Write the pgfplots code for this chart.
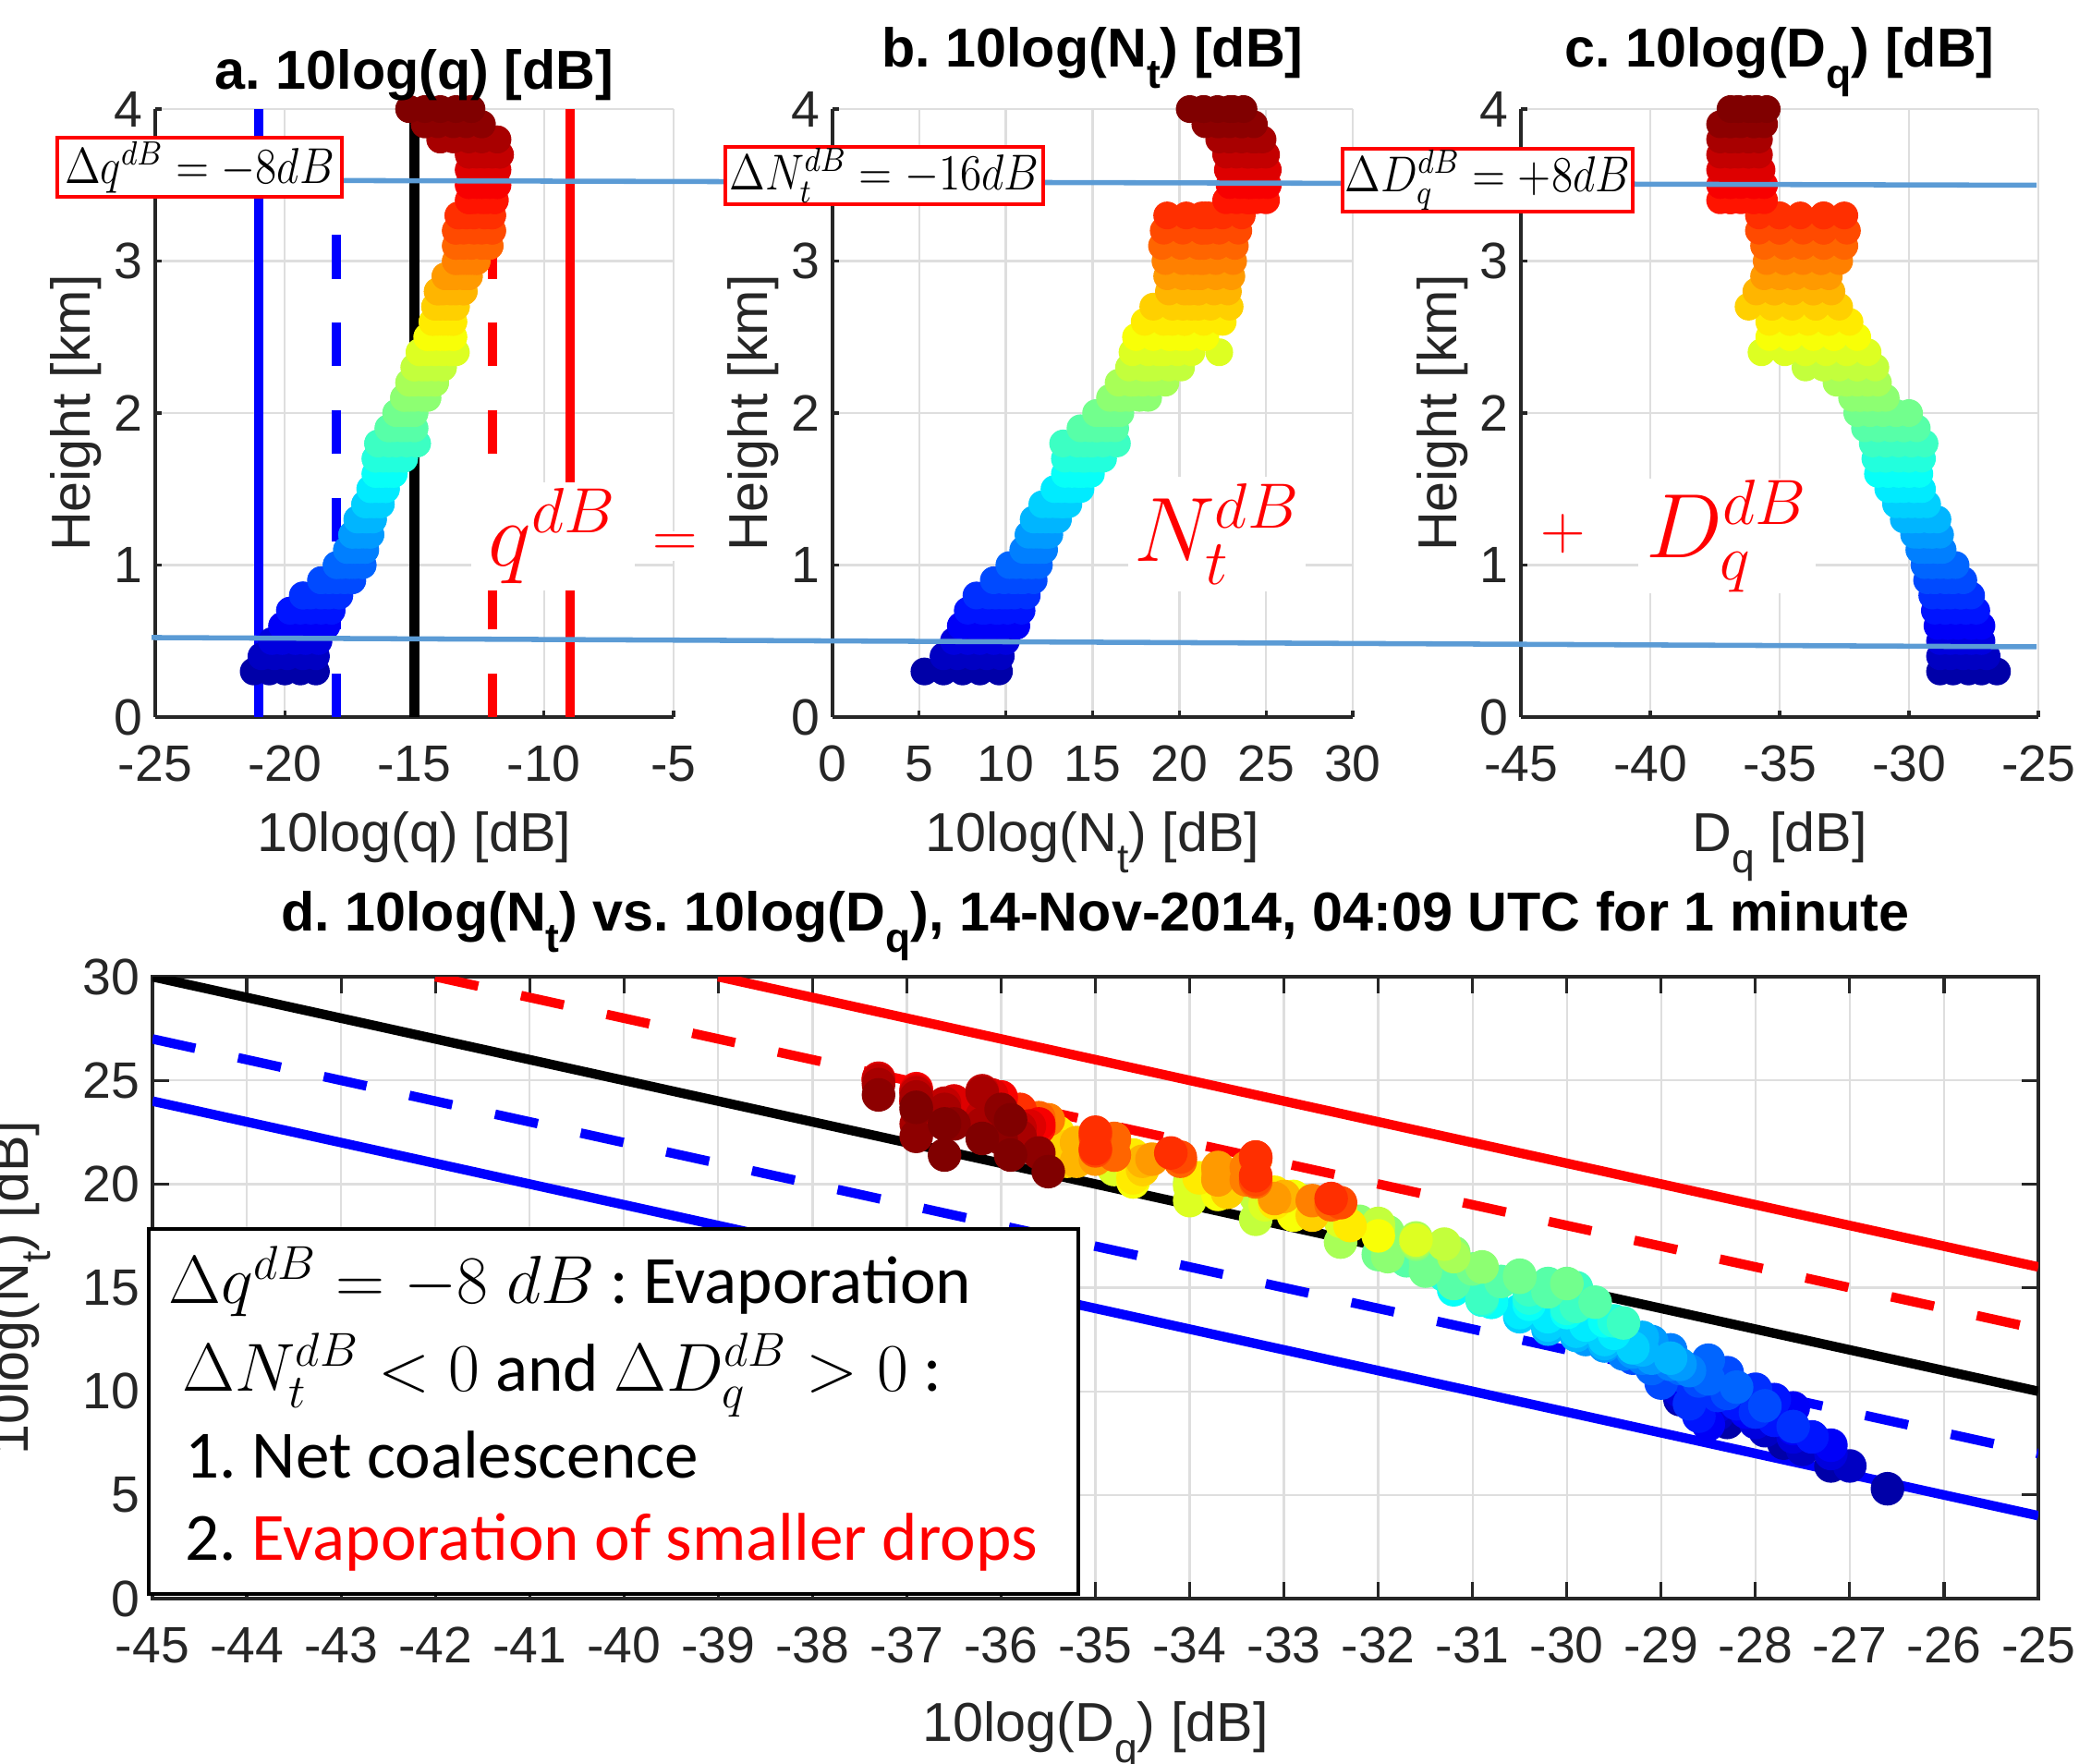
\RequirePackage{fix-cm}
\documentclass[border=0pt]{standalone}
\usepackage[no-math]{fontspec}
\setmainfont{Liberation Sans}
\newfontfamily\calib{Carlito}
\usepackage{graphicx}
\usepackage{pgfplots}
\usepackage{pgfplotstable}
\pgfplotsset{compat=1.18}
\frenchspacing

\definecolor{axgray}{RGB}{38,38,38}
\definecolor{gridgray}{RGB}{222,222,222}
\definecolor{lblue}{RGB}{91,155,213}
\definecolor{mblue}{RGB}{0,0,255}
\definecolor{mred}{RGB}{255,0,0}

\newcommand{\sub}[1]{\raisebox{-0.4em}{\scalebox{0.75}{#1}}}

\pgfplotstableread{
h q N D
0.3 -21.2 5.3 -26.6
0.3 -20.6 6.4 -27.2
0.3 -20.0 7.5 -27.7
0.3 -19.4 8.5 -28.3
0.3 -18.8 9.6 -28.8
0.4 -20.9 6.4 -27.0
0.4 -20.4 7.2 -27.5
0.4 -19.9 8.1 -27.9
0.4 -19.3 8.9 -28.4
0.4 -18.8 9.7 -28.8
0.5 -20.5 7.0 -27.2
0.5 -20.1 7.8 -27.6
0.5 -19.6 8.5 -28.0
0.5 -19.2 9.3 -28.4
0.5 -18.7 10.0 -28.8
0.6 -20.1 7.4 -27.2
0.6 -19.7 8.2 -27.6
0.6 -19.3 9.0 -28.1
0.6 -18.8 9.8 -28.5
0.6 -18.4 10.6 -28.9
0.6 -18.4 9.2 -27.6
0.6 -20.1 8.4 -28.5
0.7 -19.8 7.8 -27.4
0.7 -19.4 8.6 -27.8
0.7 -19.0 9.4 -28.2
0.7 -18.6 10.1 -28.6
0.7 -18.2 10.9 -29.0
0.7 -18.2 9.6 -27.8
0.7 -19.8 8.8 -28.6
0.8 -19.3 8.3 -27.6
0.8 -19.0 9.0 -28.0
0.8 -18.6 9.8 -28.4
0.8 -18.3 10.5 -28.7
0.8 -17.9 11.2 -29.1
0.8 -17.9 10.1 -28.0
0.8 -19.3 9.4 -28.7
0.9 -18.6 9.3 -27.9
0.9 -18.3 9.9 -28.3
0.9 -18.0 10.5 -28.6
0.9 -17.7 11.0 -29.0
0.9 -17.4 11.6 -29.3
0.9 -17.4 10.9 -28.3
0.9 -18.6 10.4 -29.0
1.0 -18.0 10.2 -28.2
1.0 -17.8 10.6 -28.5
1.0 -17.5 11.1 -28.8
1.0 -17.3 11.5 -29.1
1.0 -17.0 11.9 -29.4
1.0 -17.0 11.5 -28.5
1.0 -18.0 11.1 -29.1
1.1 -17.6 11.0 -28.7
1.1 -17.4 11.3 -28.9
1.1 -17.3 11.6 -29.2
1.1 -17.1 11.9 -29.4
1.1 -16.9 12.2 -29.6
1.1 -16.9 12.0 -28.9
1.1 -17.6 11.8 -29.4
1.2 -17.4 11.3 -28.8
1.2 -17.2 11.6 -29.1
1.2 -17.1 11.9 -29.3
1.2 -16.9 12.2 -29.6
1.2 -16.7 12.5 -29.8
1.2 -16.7 12.4 -29.1
1.2 -17.4 12.2 -29.6
1.3 -17.2 11.6 -28.9
1.3 -17.1 12.0 -29.2
1.3 -16.9 12.3 -29.6
1.3 -16.8 12.7 -29.9
1.3 -16.6 13.0 -30.2
1.3 -16.6 12.6 -29.2
1.3 -17.2 12.7 -29.9
1.4 -16.9 12.1 -29.3
1.4 -16.8 12.5 -29.6
1.4 -16.6 12.9 -29.9
1.4 -16.5 13.2 -30.2
1.4 -16.3 13.6 -30.5
1.4 -16.3 13.3 -29.6
1.4 -16.9 13.3 -30.2
1.5 -16.7 12.8 -29.5
1.5 -16.6 13.2 -29.8
1.5 -16.4 13.6 -30.2
1.5 -16.3 13.9 -30.5
1.5 -16.1 14.3 -30.8
1.5 -16.1 13.7 -29.8
1.5 -16.7 13.8 -30.5
1.6 -16.5 13.4 -29.6
1.6 -16.3 13.8 -30.0
1.6 -16.2 14.2 -30.4
1.6 -16.0 14.5 -30.8
1.6 -15.8 14.9 -31.2
1.6 -15.8 14.2 -30.0
1.6 -16.5 14.3 -30.8
1.7 -16.5 13.4 -29.5
1.7 -16.2 14.0 -30.0
1.7 -16.0 14.5 -30.4
1.7 -15.7 15.1 -30.9
1.7 -15.4 15.6 -31.3
1.7 -15.4 14.6 -30.0
1.7 -16.5 14.4 -30.9
1.8 -16.4 13.3 -29.4
1.8 -16.0 14.1 -29.9
1.8 -15.7 14.9 -30.4
1.8 -15.3 15.6 -30.9
1.8 -14.9 16.4 -31.4
1.8 -14.9 15.0 -29.9
1.8 -16.4 14.5 -30.9
1.9 -16.0 14.3 -29.7
1.9 -15.8 14.8 -30.2
1.9 -15.5 15.3 -30.7
1.9 -15.3 15.8 -31.2
1.9 -15.0 16.3 -31.7
1.9 -15.0 15.2 -30.2
1.9 -16.0 15.2 -31.2
2.0 -15.7 15.2 -30.0
2.0 -15.5 15.6 -30.5
2.0 -15.4 15.9 -31.0
2.0 -15.2 16.3 -31.5
2.0 -15.0 16.6 -32.0
2.0 -15.0 15.5 -30.5
2.0 -15.7 15.8 -31.5
2.1 -15.4 16.0 -30.9
2.1 -15.2 16.6 -31.2
2.1 -15.0 17.1 -31.6
2.1 -14.7 17.7 -31.9
2.1 -14.5 18.2 -32.2
2.1 -14.5 16.7 -31.2
2.1 -15.4 16.5 -31.9
2.2 -15.2 16.5 -31.2
2.2 -15.0 17.2 -31.6
2.2 -14.7 17.9 -32.0
2.2 -14.5 18.5 -32.4
2.2 -14.2 19.2 -32.8
2.2 -14.2 17.4 -31.6
2.2 -15.2 17.2 -32.4
2.3 -15.0 17.1 -31.3
2.3 -14.7 17.9 -32.0
2.3 -14.5 18.6 -32.7
2.3 -14.2 19.4 -33.3
2.3 -13.9 20.1 -34.0
2.3 -13.9 18.1 -32.0
2.3 -15.0 18.3 -33.3
2.4 -14.8 17.3 -31.6
2.4 -14.5 18.2 -32.4
2.4 -14.2 19.0 -33.2
2.4 -13.9 19.9 -34.0
2.4 -13.6 20.7 -34.8
2.4 -13.4 22.3 -35.7
2.4 -13.6 18.8 -32.4
2.4 -14.8 19.2 -34.0
2.5 -14.5 17.5 -32.0
2.5 -14.3 18.5 -32.9
2.5 -14.0 19.5 -33.7
2.5 -13.8 20.5 -34.6
2.5 -13.5 21.5 -35.4
2.5 -13.5 19.4 -32.9
2.5 -14.5 20.1 -34.6
2.6 -14.3 18.0 -32.3
2.6 -14.1 19.1 -33.1
2.6 -13.9 20.3 -33.9
2.6 -13.7 21.4 -34.6
2.6 -13.5 22.5 -35.4
2.6 -13.5 19.6 -33.1
2.6 -14.3 20.3 -34.6
2.7 -14.2 18.5 -32.7
2.7 -14.0 19.6 -33.6
2.7 -13.8 20.7 -34.5
2.7 -13.6 21.8 -35.3
2.7 -13.4 22.9 -36.2
2.7 -13.4 20.2 -33.6
2.7 -14.2 21.1 -35.3
2.8 -14.1 19.4 -33.0
2.8 -13.9 20.3 -33.7
2.8 -13.6 21.1 -34.5
2.8 -13.4 22.0 -35.2
2.8 -13.1 22.8 -35.9
2.8 -13.1 20.6 -33.7
2.8 -14.1 21.1 -35.2
2.9 -13.8 19.3 -33.1
2.9 -13.6 20.2 -33.7
2.9 -13.4 21.2 -34.4
2.9 -13.1 22.1 -35.0
2.9 -12.9 23.0 -35.6
2.9 -12.9 20.8 -33.7
2.9 -13.8 21.2 -35.0
3.0 -13.4 19.2 -32.7
3.0 -13.2 20.2 -33.4
3.0 -13.0 21.2 -34.1
3.0 -12.8 22.1 -34.8
3.0 -12.6 23.1 -35.5
3.0 -12.6 20.8 -33.4
3.0 -13.4 21.4 -34.8
3.1 -13.4 19.0 -32.5
3.1 -13.1 20.1 -33.3
3.1 -12.8 21.1 -34.1
3.1 -12.4 22.2 -34.8
3.1 -12.1 23.2 -35.6
3.1 -12.1 21.2 -33.3
3.1 -13.4 21.4 -34.8
3.2 -13.4 19.1 -32.4
3.2 -13.1 20.2 -33.3
3.2 -12.7 21.3 -34.1
3.2 -12.4 22.3 -35.0
3.2 -12.0 23.4 -35.8
3.2 -12.0 21.3 -33.3
3.2 -13.4 21.6 -35.0
3.3 -13.3 19.3 -32.5
3.3 -13.0 20.4 -33.3
3.3 -12.7 21.5 -34.2
3.3 -12.3 22.5 -35.0
3.3 -12.0 23.6 -35.8
3.3 -12.0 21.3 -33.3
3.3 -13.3 21.7 -35.0
3.4 -12.9 22.7 -35.6
3.4 -12.7 23.3 -36.0
3.4 -12.4 23.9 -36.5
3.4 -12.2 24.4 -36.9
3.4 -11.9 25.0 -37.3
3.4 -11.9 24.1 -36.0
3.4 -12.9 24.0 -36.9
3.5 -12.9 22.9 -35.6
3.5 -12.6 23.5 -36.0
3.5 -12.4 24.0 -36.5
3.5 -12.1 24.6 -36.9
3.5 -11.8 25.1 -37.3
3.5 -11.8 24.2 -36.0
3.5 -12.9 24.0 -36.9
3.6 -12.9 22.8 -35.7
3.6 -12.6 23.4 -36.1
3.6 -12.4 24.0 -36.5
3.6 -12.1 24.5 -36.9
3.6 -11.8 25.1 -37.3
3.6 -11.8 24.3 -36.1
3.6 -12.9 24.0 -36.9
3.7 -12.9 22.7 -35.8
3.7 -12.6 23.3 -36.2
3.7 -12.3 23.9 -36.6
3.7 -12.0 24.4 -36.9
3.7 -11.7 25.0 -37.3
3.7 -11.7 24.5 -36.2
3.7 -12.9 24.0 -36.9
3.8 -14.0 22.3 -35.8
3.8 -13.5 22.9 -36.2
3.8 -12.9 23.6 -36.6
3.8 -12.4 24.2 -36.9
3.8 -11.8 24.8 -37.3
3.8 -11.8 24.4 -36.2
3.8 -14.0 22.9 -36.9
3.9 -14.6 21.5 -35.6
3.9 -14.1 22.2 -36.0
3.9 -13.5 22.9 -36.5
3.9 -13.0 23.6 -36.9
3.9 -12.4 24.3 -37.3
3.9 -12.4 23.6 -36.0
3.9 -14.6 22.3 -36.9
4.0 -15.2 20.6 -35.5
4.0 -14.6 21.4 -35.9
4.0 -14.0 22.2 -36.2
4.0 -13.4 22.9 -36.6
4.0 -12.8 23.7 -36.9
4.0 -12.8 23.1 -35.9
4.0 -15.2 21.4 -36.6
}\prof

\pgfplotsset{
  base/.style={
    scale only axis,
    axis line style={axgray, line width=0.8pt},
    every tick/.style={axgray, line width=0.8pt},
    tick align=inside,
    grid=major,
    major grid style={gridgray, line width=0.6pt},
    tick label style={font=\fontsize{14}{16}\selectfont, text=axgray},
    xticklabel style={yshift=-4.3pt},
    label style={font=\fontsize{15}{18}\selectfont, text=axgray},
    title style={font=\bfseries\fontsize{15}{18}\selectfont},
    /pgf/number format/assume math mode=true,
    colormap/jet,
    point meta min=0.15, point meta max=3.95,
  },
  profile/.style={
    base,
    axis x line*=bottom, axis y line*=left,
    clip=false,
    ymin=0, ymax=4, ytick={0,1,2,3,4},
    width=4.98cm, height=5.8489cm,
    major tick length=1.8pt,
    ylabel={Height [km]},
    ylabel style={at={(axis description cs:-0.125,0.5)}, anchor=base},
    xlabel style={at={(axis description cs:0.5,0)}, anchor=base, yshift=-1.289cm},
  },
  sc/.style={scatter, only marks, mark=*, mark size=3.6pt,
    scatter/use mapped color={draw=mapped color, fill=mapped color},
    point meta=\thisrow{h}},
  vl/.style={line width=2.6pt},
  dsh/.style={dash pattern=on 12pt off 12pt},
}

\begin{document}
\begin{tikzpicture}
\useasboundingbox (0,0) rectangle (20,16.96);
\clip (0,0) rectangle (20,16.96);

% ---------- panel a ----------
\begin{axis}[profile, at={(1.4933cm,10.0622cm)}, anchor=south west,
  width=4.9867cm,
  xmin=-25, xmax=-5, xtick={-25,-20,...,-5},
  title={a. 10log(q) [dB]},
  title style={at={(axis description cs:0.5,1)}, anchor=base, yshift=-0.024cm},
  xlabel={10log(q) [dB]}]
\addplot[sc] table[x=q, y=h] {\prof};
\addplot[vl, mblue] coordinates {(-21,0) (-21,4)};
\addplot[vl, mblue, dsh] coordinates {(-18,0) (-18,4)};
\addplot[vl, black] coordinates {(-15,0) (-15,4)};
\addplot[vl, mred, dsh] coordinates {(-12,0) (-12,4)};
\addplot[vl, mred] coordinates {(-9,0) (-9,4)};
\end{axis}

% ---------- panel b ----------
\begin{axis}[profile, at={(8.0089cm,10.0622cm)}, anchor=south west,
  width=5.0044cm,
  xmin=0, xmax=30, xtick={0,5,...,30},
  title={b. 10log(N\sub{t}) [dB]},
  title style={at={(axis description cs:0.5,1)}, anchor=base, yshift=0.198cm},
  xlabel={10log(N\sub{t}) [dB]}]
\addplot[sc] table[x=N, y=h] {\prof};
\end{axis}

% ---------- panel c ----------
\begin{axis}[profile, at={(14.6311cm,10.0622cm)}, anchor=south west,
  width=4.9778cm,
  xmin=-45, xmax=-25, xtick={-45,-40,...,-25},
  title={c. 10log(D\sub{q}) [dB]},
  title style={at={(axis description cs:0.5,1)}, anchor=base, yshift=0.198cm},
  xlabel={D\sub{q} [dB]}]
\addplot[sc] table[x=D, y=h] {\prof};
\end{axis}

% ---------- panel d ----------
\begin{axis}[base, at={(1.4667cm,1.5822cm)}, anchor=south west,
  width=18.1422cm, height=5.9822cm,
  xmin=-45, xmax=-25, ymin=0, ymax=30,
  xtick={-45,-44,...,-25}, ytick={0,5,...,30},
  major tick length=4.5pt,
  title={d. 10log(N\sub{t}) vs. 10log(D\sub{q}), 14-Nov-2014, 04:09 UTC for 1 minute},
  title style={at={(axis description cs:0.5,1)}, anchor=base, yshift=0.233cm},
  xlabel={10log(D\sub{q}) [dB]},
  xlabel style={at={(axis description cs:0.5,0)}, anchor=base, yshift=-1.369cm},
  ylabel={10log(N\sub{t}) [dB]},
  ylabel style={at={(axis description cs:-0.0657,0.5)}, anchor=base}]
\addplot[vl, mblue] coordinates {(-45,24) (-25,4)};
\addplot[vl, mblue, dsh] coordinates {(-45,27) (-25,7)};
\addplot[vl, black] coordinates {(-45,30) (-25,10)};
\addplot[vl, mred, dsh] coordinates {(-42,30) (-25,13)};
\addplot[vl, mred] coordinates {(-39,30) (-25,16)};
\addplot[sc, mark size=4.4pt] table[x=D, y=N] {\prof};
\end{axis}

% ---------- light blue connecting lines ----------
\draw[lblue, line width=1.4pt] (1.911,15.227) -- (19.591,15.178);
\draw[lblue, line width=1.4pt] (1.458,10.827) -- (19.591,10.738);

% ---------- red boxes ----------
\node[draw=mred, line width=1pt, fill=white, inner sep=0pt, minimum width=2.738cm, minimum height=0.569cm, font=\fontsize{12}{14}\selectfont] at (1.920,15.351) {\scalebox{1}[1.15]{$\Delta q^{dB} = -8dB$}};
\node[draw=mred, line width=1pt, fill=white, inner sep=0pt, minimum width=3.058cm, minimum height=0.551cm, font=\fontsize{12}{14}\selectfont] at (8.507,15.271) {\scalebox{1}[1.15]{$\Delta N_t^{dB} = -16dB$}};
\node[draw=mred, line width=1pt, fill=white, inner sep=0pt, minimum width=2.791cm, minimum height=0.604cm, font=\fontsize{12}{14}\selectfont] at (14.311,15.227) {\scalebox{1}[1.15]{$\Delta D_q^{dB} = +8dB$}};

% ---------- big red equation ----------
\node[fill=white, text=mred, inner sep=0pt, minimum width=1.573cm, minimum height=1.04cm, font=\fontsize{25}{30}\selectfont] at (5.316,11.804) {$q^{dB}$};
\node[fill=white, text=mred, inner sep=1pt, font=\fontsize{17}{20}\selectfont] at (6.498,11.707) {$=$};
\node[fill=white, text=mred, inner sep=0pt, minimum width=1.707cm, minimum height=1.102cm, font=\fontsize{25}{30}\selectfont] at (11.707,11.822) {$N_t^{dB}$};
\node[fill=white, text=mred, inner sep=1pt, font=\fontsize{17}{20}\selectfont] at (15.04,11.822) {$+$};
\node[fill=white, text=mred, inner sep=0pt, minimum width=1.715cm, minimum height=1.102cm, font=\fontsize{25}{30}\selectfont] at (16.613,11.804) {$D_q^{dB}$};

% ---------- explanation box ----------
\filldraw[fill=white, draw=black, line width=1pt] (1.431,5.138) rectangle (10.373,1.627);
\begin{scope}[every node/.style={anchor=base west, inner sep=0pt, font=\calib\fontsize{18.5}{22}\selectfont}]
\node at (1.618,4.418) {{\fontsize{18.6}{22}\selectfont$\Delta q^{dB} = -8\;dB$} : Evaporation};
\node at (1.751,3.582) {{\fontsize{18.6}{22}\selectfont$\Delta N_t^{dB} < 0$} and {\fontsize{18.6}{22}\selectfont$\Delta D_q^{dB} > 0$} :};
\node at (1.778,2.738) {1. Net coalescence};
\node at (1.778,1.947) {2. \textcolor{mred}{Evaporation of smaller drops}};
\end{scope}
\end{tikzpicture}
\end{document}
